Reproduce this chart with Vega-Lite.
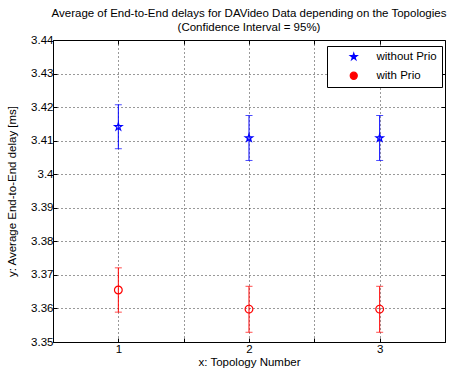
{
  "$schema": "https://vega.github.io/schema/vega-lite/v6.json",
  "width": 392,
  "height": 302,
  "autosize": {"type": "none"},
  "padding": {"left": 53, "top": 40, "right": 4, "bottom": 31},
  "background": "white",
  "title": {
    "text": ["Average of End-to-End delays for DAVideo Data depending on the Topologies", "(Confidence Interval = 95%)"],
    "font": "Liberation Sans",
    "fontSize": 11.5,
    "fontWeight": "normal",
    "color": "#000",
    "anchor": "middle",
    "lineHeight": 14,
    "offset": 1
  },
  "config": {
    "view": {"stroke": "#000", "strokeWidth": 1},
    "font": "Liberation Sans"
  },
  "data": {
    "values": [
      {"topology": 1, "series": "without Prio", "mean": 3.4141, "lower": 3.4076, "upper": 3.4207},
      {"topology": 2, "series": "without Prio", "mean": 3.4108, "lower": 3.4041, "upper": 3.4175},
      {"topology": 3, "series": "without Prio", "mean": 3.4108, "lower": 3.4041, "upper": 3.4175},
      {"topology": 1, "series": "with Prio", "mean": 3.3655, "lower": 3.3589, "upper": 3.3721},
      {"topology": 2, "series": "with Prio", "mean": 3.3598, "lower": 3.3529, "upper": 3.3666},
      {"topology": 3, "series": "with Prio", "mean": 3.3598, "lower": 3.3529, "upper": 3.3666}
    ]
  },
  "resolve": {"axis": {"x": "independent", "y": "independent"}},
  "layer": [
    {
      "mark": {"type": "rule", "strokeWidth": 1},
      "encoding": {
        "x": {
          "field": "topology", "type": "quantitative",
          "scale": {"domain": [0.5, 3.5], "nice": false, "zero": false},
          "axis": {
            "title": "x: Topology Number",
            "values": [1, 1.5, 2, 2.5, 3],
            "labelExpr": "datum.value % 1 == 0 ? format(datum.value, 'd') : ''",
            "grid": true, "gridColor": "#000", "gridDash": [1, 3], "gridOpacity": 0.8,
            "domainColor": "#000", "tickColor": "#000", "tickSize": -4,
            "labelColor": "#000", "labelFontSize": 11.5, "labelPadding": 5,
            "titleColor": "#000", "titleFontSize": 11.5, "titleFontWeight": "normal", "titlePadding": 2
          }
        },
        "y": {
          "field": "lower", "type": "quantitative",
          "scale": {"domain": [3.35, 3.44], "nice": false, "zero": false},
          "axis": {
            "title": "y: Average End-to-End delay [ms]",
            "values": [3.35, 3.36, 3.37, 3.38, 3.39, 3.4, 3.41, 3.42, 3.43, 3.44],
            "format": ".2~f",
            "grid": true, "gridColor": "#000", "gridDash": [1, 3], "gridOpacity": 0.8,
            "domainColor": "#000", "tickColor": "#000", "tickSize": -4,
            "labelColor": "#000", "labelFontSize": 11.5, "labelPadding": 4,
            "titleColor": "#000", "titleFontSize": 11.5, "titleFontWeight": "normal", "titlePadding": 13
          }
        },
        "y2": {"field": "upper"},
        "color": {
          "field": "series", "type": "nominal",
          "scale": {"domain": ["without Prio", "with Prio"], "range": ["#0000ff", "#ff0000"]}
        }
      }
    },
    {
      "mark": {"type": "tick", "orient": "horizontal", "size": 7, "thickness": 1},
      "encoding": {
        "x": {
          "field": "topology", "type": "quantitative",
          "axis": {
            "orient": "top", "title": null, "labels": false, "grid": false,
            "values": [1, 1.5, 2, 2.5, 3],
            "domain": false, "tickColor": "#000", "tickSize": -4
          }
        },
        "y": {
          "field": "upper", "type": "quantitative",
          "axis": {
            "orient": "right", "title": null, "labels": false, "grid": false,
            "values": [3.35, 3.36, 3.37, 3.38, 3.39, 3.4, 3.41, 3.42, 3.43, 3.44],
            "domain": false, "tickColor": "#000", "tickSize": -4
          }
        },
        "fill": {
          "field": "series", "type": "nominal",
          "scale": {"domain": ["without Prio", "with Prio"], "range": ["#0000ff", "#ff0000"]},
          "legend": null
        }
      }
    },
    {
      "mark": {"type": "tick", "orient": "horizontal", "size": 7, "thickness": 1},
      "encoding": {
        "x": {"field": "topology", "type": "quantitative", "axis": null},
        "y": {"field": "lower", "type": "quantitative", "axis": null},
        "fill": {"field": "series", "type": "nominal", "legend": null}
      }
    },
    {
      "mark": {"type": "point", "filled": false, "strokeWidth": 1.2, "opacity": 1},
      "encoding": {
        "x": {"field": "topology", "type": "quantitative", "axis": null},
        "y": {"field": "mean", "type": "quantitative", "axis": null},
        "color": {
          "field": "series", "type": "nominal",
          "legend": {
            "title": null, "orient": "none", "legendX": 274, "legendY": 6,
            "padding": 5, "symbolOffset": 16, "labelOffset": 17,
            "strokeColor": "#000", "fillColor": "#fff",
            "labelFontSize": 11.5, "labelColor": "#000", "rowPadding": 6,
            "symbolSize": 50, "symbolStrokeWidth": 1.2,
            "encode": {"symbols": {"update": {"fill": {"value": "transparent"}, "fillOpacity": {"value": 0}}}}
          }
        },
        "shape": {
          "field": "series", "type": "nominal",
          "scale": {"domain": ["without Prio", "with Prio"], "range": ["M0,-1L0.225,-0.309L0.951,-0.309L0.363,0.118L0.588,0.809L0,0.382L-0.588,0.809L-0.363,0.118L-0.951,-0.309L-0.225,-0.309Z", "circle"]},
          "legend": {
            "title": null, "orient": "none", "legendX": 274, "legendY": 6,
            "padding": 5, "symbolOffset": 16, "labelOffset": 17,
            "strokeColor": "#000", "fillColor": "#fff",
            "labelFontSize": 11.5, "labelColor": "#000", "rowPadding": 6,
            "symbolSize": 50, "symbolStrokeWidth": 1.2,
            "encode": {"symbols": {"update": {"fill": {"value": "transparent"}, "fillOpacity": {"value": 0}}}}
          }
        },
        "size": {"value": 60}
      }
    }
  ]
}
